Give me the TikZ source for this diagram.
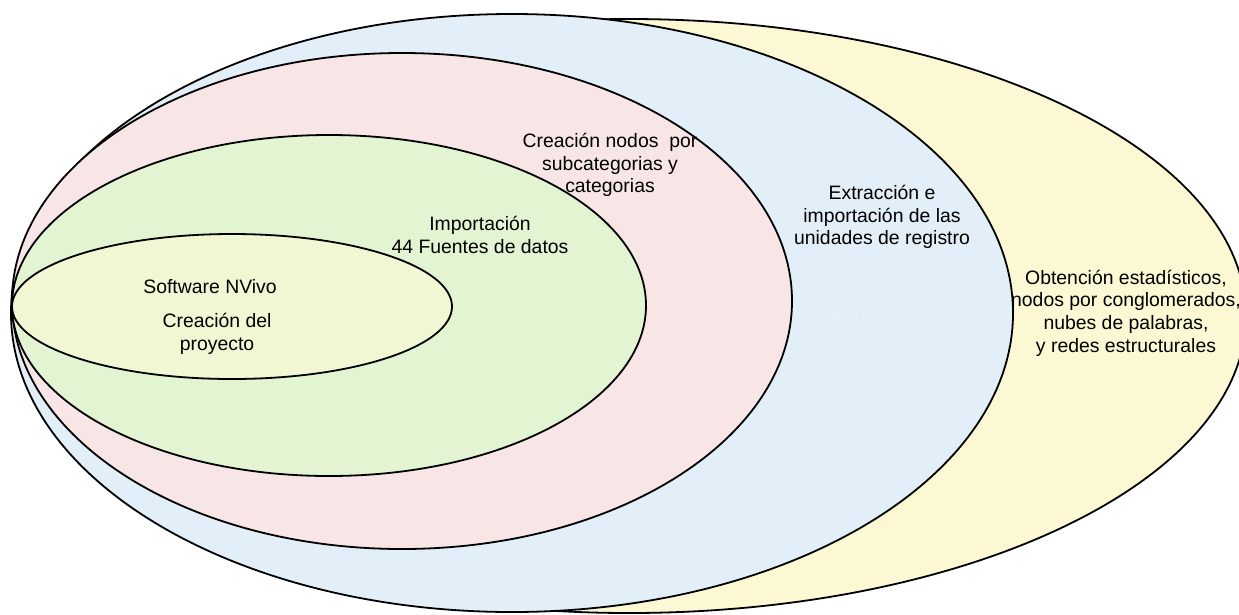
\documentclass[tikz,border=0pt]{standalone}
\usepackage{fontspec}
\setmainfont{Liberation Sans}
\definecolor{stageyellow}{HTML}{FBF8D3}
\definecolor{stageblue}{HTML}{E2EEF8}
\definecolor{stagepink}{HTML}{F8E5E6}
\definecolor{stagegreen}{HTML}{E3F4D2}
\definecolor{stagecore}{HTML}{F1F7D3}
\definecolor{fainttext}{HTML}{E6F0FA}
\begin{document}
\begin{tikzpicture}[x=1pt,y=-1pt,
  stage/.style={draw=black,line width=1.8pt},
  label/.style={align=center,inner sep=0pt,font=\fontsize{19.4}{22.7}\selectfont,text=black}]
\useasboundingbox (0,0) rectangle (1239,614);
\clip (0,0) rectangle (1239,614);
% nested stages, outermost first
\draw[stage,fill=stageyellow] (629,316) ellipse [x radius=617,y radius=297];
\draw[stage,fill=stageblue] (512,313) ellipse [x radius=501,y radius=299];
\node[anchor=east,inner sep=0pt,text=fainttext,font=\bfseries\fontsize{20}{24}\selectfont] (cite) at (877,318) {o, 2002};
\draw[stage,fill=stagepink] (402,301) ellipse [x radius=390,y radius=248];
\draw[stage,fill=stagegreen] (329,305.5) ellipse [x radius=317,y radius=170.5];
\draw[stage,fill=stagecore] (232,306.5) ellipse [x radius=220,y radius=72.5];
% stage labels
\node[label] (nvivo) at (210,287) {Software NVivo};
\node[label] (proyecto) at (217,334) {Creación del\\proyecto};
\node[label] (fuentes) at (480,235) {Importación\\44 Fuentes de datos};
\node[label] (nodos) at (610,165) {Creación nodos~ por\\subcategorias y\\categorias};
\node[label] (registro) at (882,217) {Extracción e\\importación de las\\unidades de registro};
\node[label] (resultados) at (1126,313) {Obtención estadísticos,\\nodos por conglomerados,\\nubes de palabras,\\y redes estructurales};
\end{tikzpicture}
\end{document}
